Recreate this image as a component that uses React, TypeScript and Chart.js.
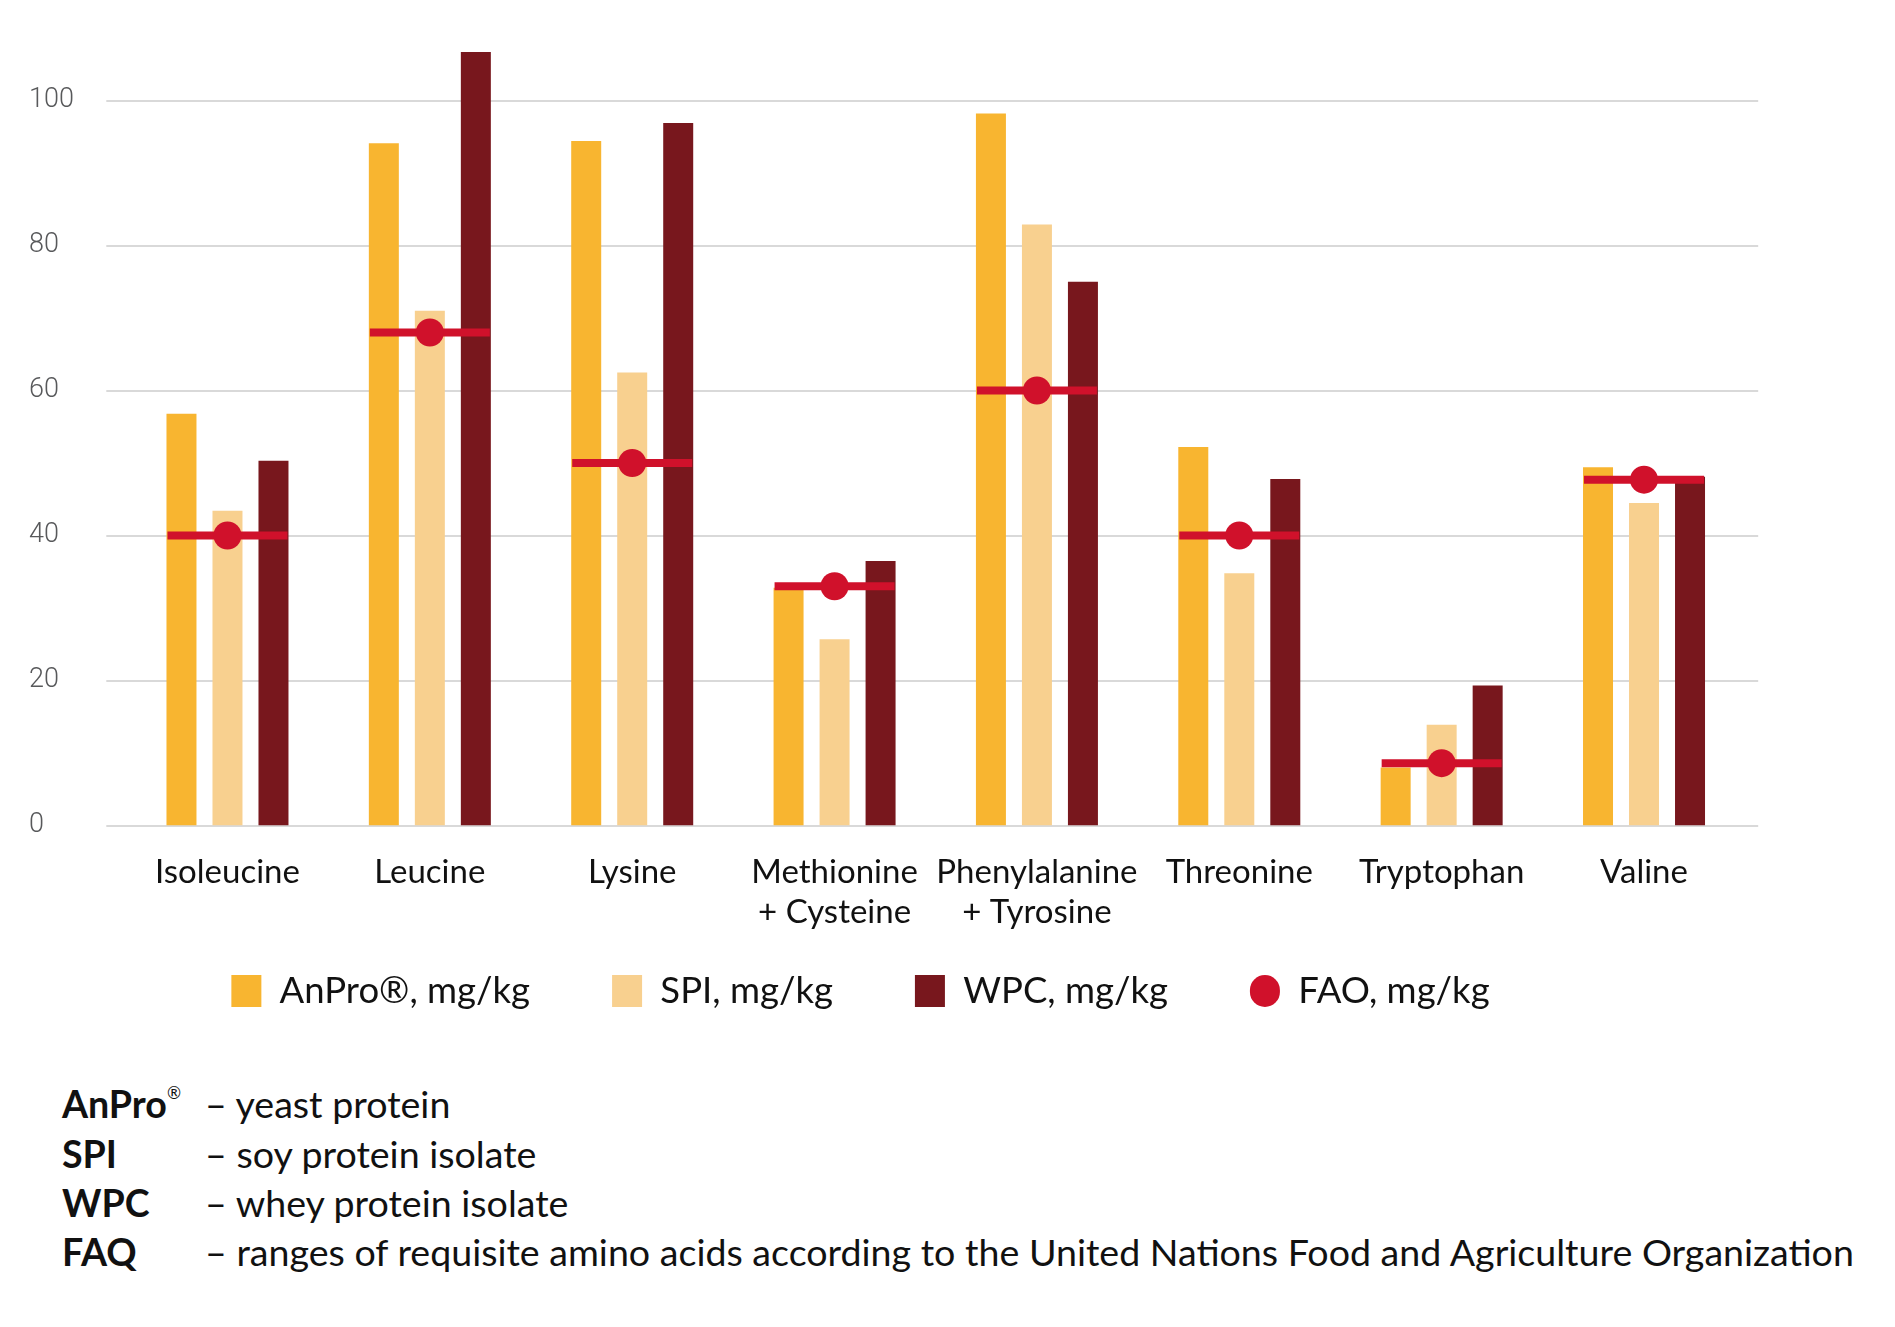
import React, { useEffect, useRef } from "react";
import { Chart, registerables } from "chart.js";

Chart.register(...registerables);

const categories: string[][] = [
  ["Isoleucine"],
  ["Leucine"],
  ["Lysine"],
  ["Methionine", "+ Cysteine"],
  ["Phenylalanine", "+ Tyrosine"],
  ["Threonine"],
  ["Tryptophan"],
  ["Valine"],
];
const anproValues = [56.8, 94.1, 94.4, 32.8, 98.2, 52.2, 8.0, 49.4];
const spiValues = [43.4, 71.0, 62.5, 25.7, 82.9, 34.8, 13.9, 44.5];
const wpcValues = [50.3, 106.7, 96.9, 36.5, 75.0, 47.8, 19.3, 48.1];
const faoValues = [40, 68, 50, 33, 60, 40, 8.6, 47.7];
const yTickValues = [0, 20, 40, 60, 80, 100];
const seriesLabels = ["AnPro®, mg/kg", "SPI, mg/kg", "WPC, mg/kg", "FAO, mg/kg"];
const noteKeys = ["AnPro®", "SPI", "WPC", "FAQ"];
const noteTexts = [
  "– yeast protein",
  "– soy protein isolate",
  "– whey protein isolate",
  "– ranges of requisite amino acids according to the United Nations Food and Agriculture Organization",
];

const COLORS = {
  anpro: "#f8b530",
  spi: "#f8d08f",
  wpc: "#78171d",
  fao: "#d0112b",
  grid: "#d9d9d9",
};

const LEGEND_FONT = 36.5;
const LEGEND_PAD = 82;
const LEGEND_BOX_H = 32;

const gridPlugin = {
  id: "extGrid",
  beforeDatasetsDraw(chart: any) {
    const { ctx, chartArea, scales } = chart;
    const y = scales.y;
    ctx.save();
    ctx.strokeStyle = COLORS.grid;
    ctx.lineWidth = 2;
    yTickValues.forEach((v) => {
      const py = Math.round(y.getPixelForValue(v));
      ctx.beginPath();
      ctx.moveTo(chartArea.left - 20, py);
      ctx.lineTo(chartArea.right + 13, py);
      ctx.stroke();
    });
    ctx.restore();
  },
};

// place the legend row where the reference has it
const legendPlacePlugin = {
  id: "legendPlace",
  afterLayout(chart: any) {
    const l = chart.legend;
    if (!l) return;
    const itemH = Math.max(LEGEND_FONT, LEGEND_BOX_H);
    const top = 983 - LEGEND_PAD - itemH / 2;
    const dy = top - l.top;
    l.top += dy;
    l.bottom += dy;
    const dx = 852.5 - (l.left + l.right) / 2;
    l.left += dx;
    l.right += dx;
  },
};

export default function App() {
  const canvasRef = useRef<HTMLCanvasElement | null>(null);

  useEffect(() => {
    let chart: Chart | null = null;
    let cancelled = false;
    const build = () => {
      if (cancelled || !canvasRef.current) return;
      chart = new Chart(canvasRef.current, {
        type: "bar",
        data: {
          labels: categories,
          datasets: [
            {
              type: "bar",
              label: seriesLabels[0],
              data: anproValues,
              backgroundColor: COLORS.anpro,
              barPercentage: 0.652,
              categoryPercentage: 0.682,
              order: 3,
            },
            {
              type: "bar",
              label: seriesLabels[1],
              data: spiValues,
              backgroundColor: COLORS.spi,
              barPercentage: 0.652,
              categoryPercentage: 0.682,
              order: 3,
            },
            {
              type: "bar",
              label: seriesLabels[2],
              data: wpcValues,
              backgroundColor: COLORS.wpc,
              barPercentage: 0.652,
              categoryPercentage: 0.682,
              order: 3,
            },
            {
              type: "line",
              label: "FAO range",
              data: faoValues,
              showLine: false,
              pointStyle: "line",
              pointRadius: 60,
              pointHoverRadius: 60,
              borderColor: COLORS.fao,
              pointBorderColor: COLORS.fao,
              pointBorderWidth: 8,
              order: 1,
            } as any,
            {
              type: "line",
              label: seriesLabels[3],
              data: faoValues,
              showLine: false,
              pointStyle: "circle",
              pointRadius: 14,
              pointHoverRadius: 14,
              backgroundColor: COLORS.fao,
              pointBackgroundColor: COLORS.fao,
              borderColor: COLORS.fao,
              pointBorderWidth: 0,
              order: 0,
            } as any,
          ],
        },
        options: {
          animation: false,
          responsive: true,
          maintainAspectRatio: false,
          events: [],
          layout: {
            autoPadding: false,
            padding: { left: 21, right: 42.8, top: 20, bottom: 0 },
          },
          plugins: {
            tooltip: { enabled: false },
            legend: {
              position: "bottom",
              labels: {
                boxWidth: 30,
                boxHeight: LEGEND_BOX_H,
                padding: LEGEND_PAD,
                color: "#111",
                font: { family: "Lato", size: LEGEND_FONT },
                generateLabels: (ch: any) =>
                  [0, 1, 2, 4].map((i) => {
                    const ds = ch.data.datasets[i];
                    return {
                      text: ds.label,
                      fillStyle: ds.backgroundColor,
                      strokeStyle: "rgba(0,0,0,0)",
                      lineWidth: 0,
                      hidden: false,
                      datasetIndex: i,
                      fontColor: "#111",
                      borderRadius: i === 4 ? 15 : 0,
                    };
                  }),
              },
            },
          },
          scales: {
            x: {
              grid: { display: false, drawTicks: false },
              border: { display: false },
              ticks: {
                color: "#111",
                font: { family: "Lato", size: 33, lineHeight: 1.2121 },
                padding: 27,
                maxRotation: 0,
                autoSkip: false,
              },
            },
            y: {
              min: 0,
              max: 110,
              grid: { display: false },
              border: { display: false },
              afterBuildTicks: (axis: any) => {
                axis.ticks = yTickValues.map((v) => ({ value: v }));
              },
              afterFit: (axis: any) => {
                axis.width = 97.3;
              },
              ticks: {
                crossAlign: "far",
                color: "#58595b",
                font: { family: "Roboto", size: 27, weight: "300" as any },
                padding: 3,
              },
            },
          },
        },
        plugins: [gridPlugin, legendPlacePlugin],
      } as any);
    };
    const fontsReady = (document as any).fonts
      ? Promise.all([
          (document as any).fonts.load("33px Lato"),
          (document as any).fonts.load("bold 37px Lato"),
          (document as any).fonts.load("300 27px Roboto"),
        ]).catch(() => null)
      : Promise.resolve(null);
    fontsReady.then(build);
    return () => {
      cancelled = true;
      if (chart) chart.destroy();
    };
  }, []);

  return (
    <div style={{ width: 1879 }}>
      <div style={{ position: "relative", width: 1780, height: 1080 }}>
        <canvas ref={canvasRef} style={{ display: "block" }} />
      </div>
      <div
        style={{
          marginTop: -8.6,
          fontFamily: "Lato",
          fontSize: 37.6,
          lineHeight: "49.3px",
          color: "#111",
        }}
      >
        {noteKeys.map((k, i) => {
          const parts = k.split("®");
          return (
            <div key={k} style={{ display: "flex", whiteSpace: "nowrap" }}>
              <span style={{ width: 143, marginLeft: 54, fontWeight: 700, flex: "none" }}>
                {parts[0]}
                {parts.length > 1 ? (
                  <sup style={{ fontSize: "0.45em", fontWeight: 400, verticalAlign: "1.1em", lineHeight: 0 }}>®</sup>
                ) : null}
              </span>
              <span>{noteTexts[i]}</span>
            </div>
          );
        })}
      </div>
    </div>
  );
}
